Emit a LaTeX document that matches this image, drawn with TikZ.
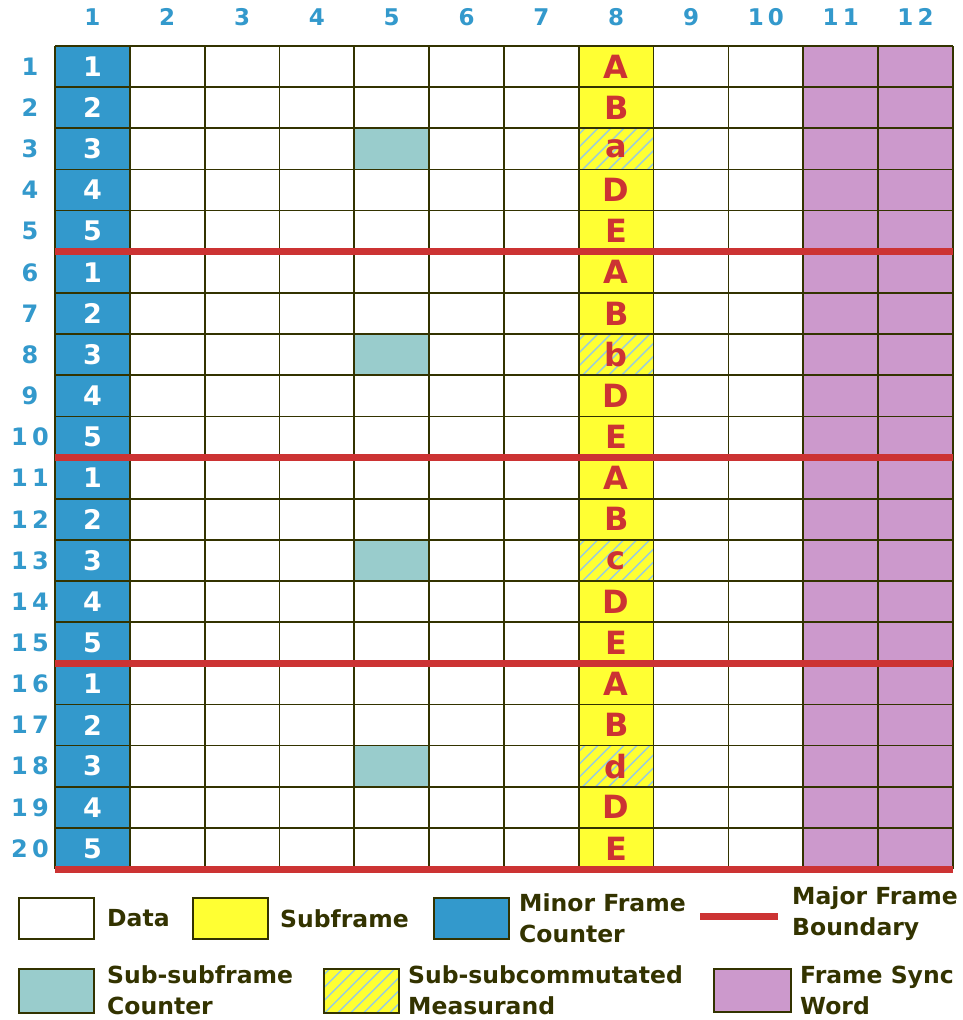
\documentclass[tikz,border=0pt]{standalone}
\usepackage{fontspec}
\setmainfont{DejaVu Sans}
\newfontfamily\numfont[LetterSpace=18]{DejaVu Sans}
\usetikzlibrary{calc}
\definecolor{MinBlue}{HTML}{3399CC}
\definecolor{SubYel}{HTML}{FFFF33}
\definecolor{SyncPink}{HTML}{CC99CC}
\definecolor{SscTeal}{HTML}{99CCCC}
\definecolor{MajRed}{HTML}{CC3333}
\definecolor{GridOl}{HTML}{333300}
\definecolor{HatchBl}{HTML}{99CCDD}
\newcommand{\colW}{74.83}
\newcommand{\rowH}{41.15}
% diagonal hatching inside a box given by two corners
\newcommand{\hatchfill}[2]{%
  \begin{scope}
    \clip #1 rectangle #2;
    \foreach \k in {-5,...,5}
      \draw[hatchln] ($#1!0.5!#2$) ++(\k*13-40,40) -- ++(80,-80);
  \end{scope}}
\tikzset{
  gridln/.style={draw=GridOl,line width=1.7pt},
  majline/.style={MajRed,line width=7pt},
  hatchln/.style={HatchBl,line width=1.4pt},
  colnum/.style={font=\numfont\bfseries\fontsize{23}{23}\selectfont,text=MinBlue,inner sep=0pt},
  rownum/.style={colnum,font=\numfont\bfseries\fontsize{24}{24}\selectfont},
  cntnum/.style={font=\bfseries\fontsize{27}{27}\selectfont,text=white,inner sep=0pt},
  subltr/.style={font=\bfseries\fontsize{32}{32}\selectfont,text=MajRed,inner sep=0pt},
  keybox/.style={draw=GridOl,line width=1.5pt,anchor=north west,inner sep=0pt,
                 minimum width=75pt,minimum height=41pt},
  keytxt/.style={font=\bfseries\fontsize{23.5}{31}\selectfont,text=GridOl,
                 align=left,anchor=west,inner sep=0pt},
}

\begin{document}
\begin{tikzpicture}[x=1pt,y=-1pt]
  \fill[white] (0,0) rectangle (963,1020);
  \useasboundingbox (0,0) rectangle (963,1020);

  % column fills
  \fill[MinBlue] (55,46) rectangle ({55+\colW},869);
  \fill[SubYel] ({55+7*\colW},46) rectangle ({55+8*\colW},869);
  \fill[SyncPink] ({55+10*\colW},46) rectangle (953,869);
  \foreach \g in {0,...,3} {
    \pgfmathsetmacro\yt{46+(5*\g+2)*\rowH}
    \pgfmathsetmacro\yb{\yt+\rowH}
    \fill[SscTeal] ({55+4*\colW},\yt) rectangle ({55+5*\colW},\yb);
    \hatchfill{({55+7*\colW},\yt)}{({55+8*\colW},\yb)}
  }

  % grid
  \foreach \c in {0,...,12}
    \draw[gridln] ({55+\c*\colW},46) -- ({55+\c*\colW},869);
  \foreach \r in {0,...,20}
    \draw[gridln] (55,{46+\r*\rowH}) -- (953,{46+\r*\rowH});
  \foreach \r in {5,10,15,20}
    \draw[majline] (55,{46+\r*\rowH}) -- (953,{46+\r*\rowH});

  % numbering
  \foreach \c in {1,...,12}
    \node[colnum] (h\c) at ({55+(\c-0.5)*\colW},17) {\c};
  \foreach \r in {1,...,20}
    \node[rownum] (r\r) at (30,{46+(\r-0.5)*\rowH}) {\r};
  \foreach \g/\lc in {0/a,1/b,2/c,3/d}
    \foreach \k/\lt in {1/A,2/B,3/\lc,4/D,5/E} {
      \pgfmathtruncatemacro\r{5*\g+\k}
      \node[cntnum] (m\r) at ({55+0.5*\colW},{46+(\r-0.5)*\rowH}) {\k};
      \node[subltr] (s\r) at ({55+7.5*\colW},{46+(\r-0.5)*\rowH}) {\lt};
    }

  % legend
  \node[keybox] (kData) at (18,897) {};
  \node[keytxt] (tData) at (107,918) {Data};
  \node[keybox,fill=SubYel] (kSub) at (192,897) {};
  \node[keytxt] (tSub) at (280,919) {Subframe};
  \node[keybox,fill=MinBlue] (kMin) at (433,897) {};
  \node[keytxt] (tMin) at (519,918) {Minor Frame\\Counter};
  \coordinate (mjA) at (700,916);
  \coordinate (mjB) at (778,916);
  \draw[majline] (mjA) -- (mjB);
  \node[keytxt] (tMaj) at (792,914) {Major Frame\\Boundary};

  \node[keybox,fill=SscTeal,minimum height=44pt] (kSsc) at (18,968) {};
  \node[keytxt] (tSsc) at (107,990) {Sub-subframe\\Counter};
  \fill[SubYel] (323,968) rectangle (398,1012);
  \hatchfill{(323,968)}{(398,1012)}
  \node[keybox,minimum height=44pt] (kMeas) at (323,968) {};
  \node[keytxt] (tMeas) at (408,990) {Sub-subcommutated\\Measurand};
  \node[keybox,fill=SyncPink,minimum width=77pt,minimum height=43pt] (kSync) at (713,968) {};
  \node[keytxt] (tSync) at (800,990) {Frame Sync\\Word};
\end{tikzpicture}
\end{document}
